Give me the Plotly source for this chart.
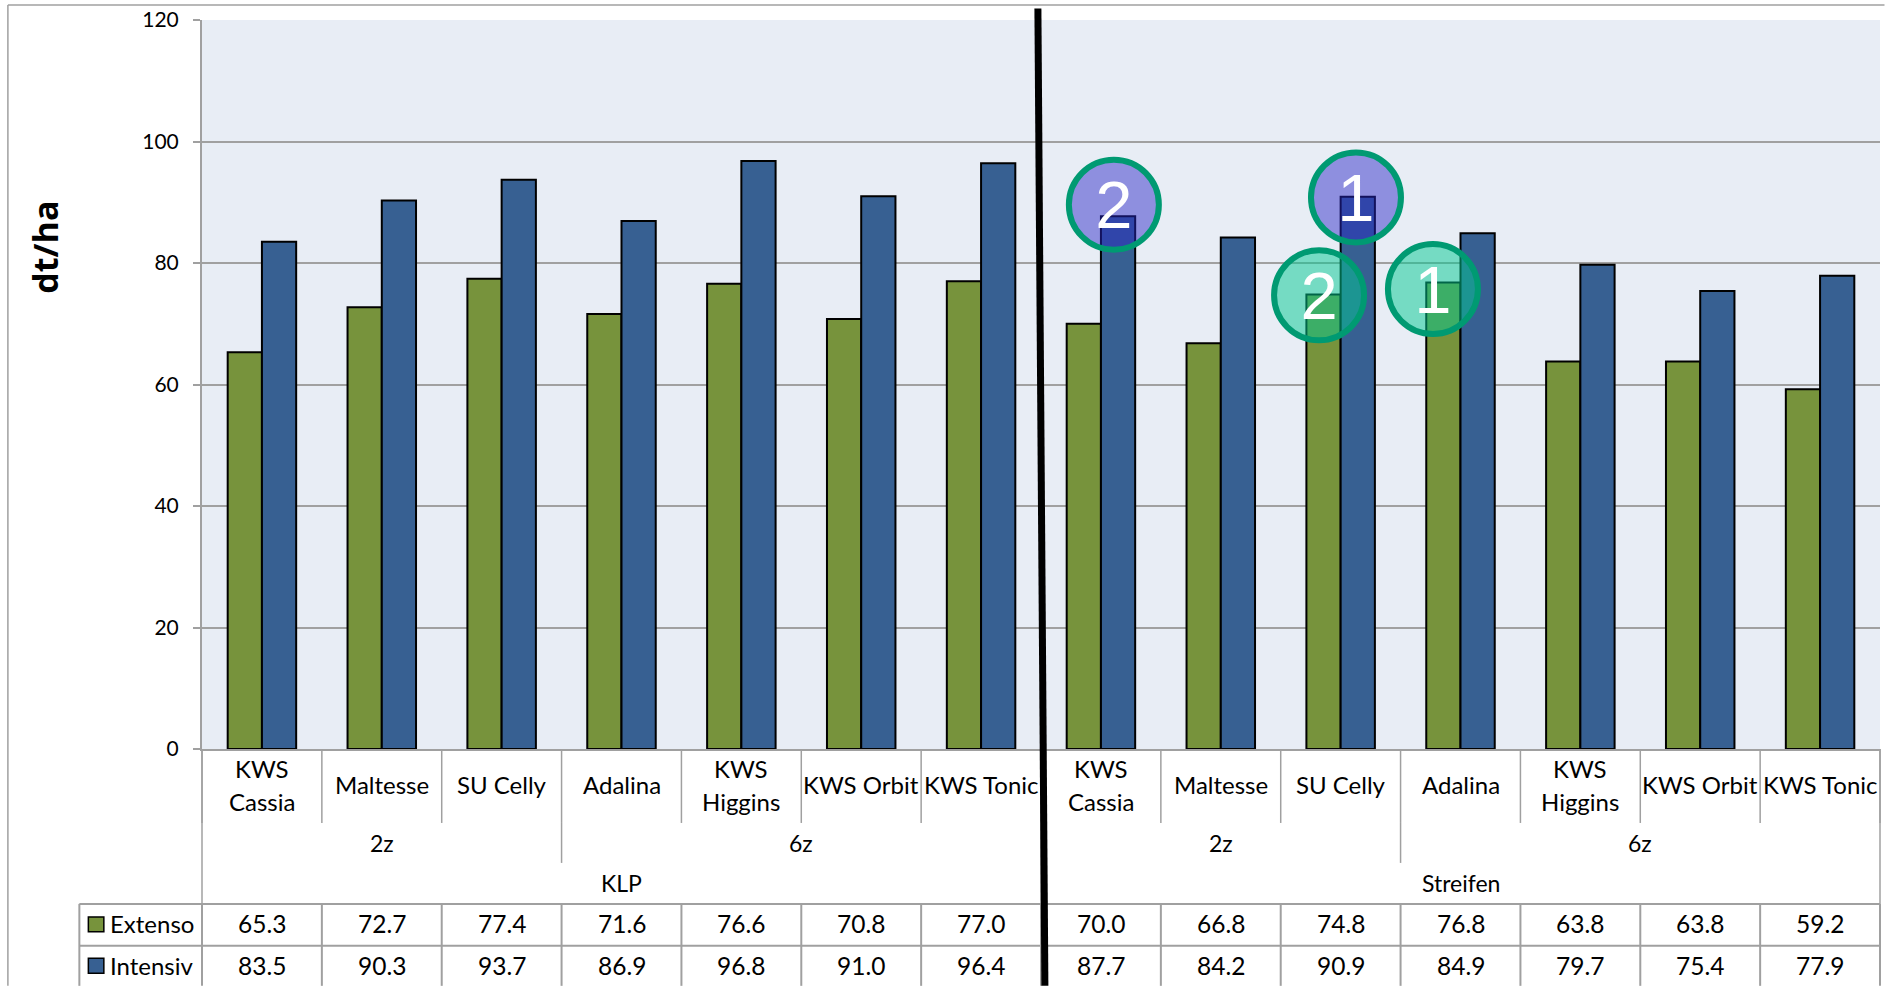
import plotly.graph_objects as go

cultivars = ["KWS<br>Cassia", "Maltesse", "SU Celly", "Adalina", "KWS<br>Higgins", "KWS Orbit", "KWS Tonic"] * 2
extenso = [65.3, 72.7, 77.4, 71.6, 76.6, 70.8, 77.0, 70.0, 66.8, 74.8, 76.8, 63.8, 63.8, 59.2]
intensiv = [83.5, 90.3, 93.7, 86.9, 96.8, 91.0, 96.4, 87.7, 84.2, 90.9, 84.9, 79.7, 75.4, 77.9]
group_labels = ["2z", "6z", "2z", "6z"]
group_pos = [1, 4.5, 8, 11.5]
method_labels = ["KLP", "Streifen"]
method_pos = [3, 10]
y_ticks = [0, 20, 40, 60, 80, 100, 120]
blue_marks_x = [7.108, 9.128]
blue_marks_y = [89.6, 90.8]
blue_marks_text = ["2", "1"]
green_marks_x = [8.82, 9.77]
green_marks_y = [74.7, 75.7]
green_marks_text = ["2", "1"]

W, H = 1885, 986
L, R, T, B = 201.7, 1880.5, 19.5, 749
CELL = (R - L) / 14
FONT = "Lato"
GRAY = "#A0A0A0"
GREEN = "#77933C"
BLUE = "#376092"

def px(v):
    return (v - L) / (R - L)

def py(v):
    return (B - v) / (B - T)

fig = go.Figure()
fig.add_bar(x=list(range(14)), y=extenso, name="Extenso", marker=dict(color=GREEN, line=dict(color="black", width=2)))
fig.add_bar(x=list(range(14)), y=intensiv, name="Intensiv", marker=dict(color=BLUE, line=dict(color="black", width=2)))

for xs, ys, txt, fill in [
    (blue_marks_x, blue_marks_y, blue_marks_text, "rgba(40,39,198,0.47)"),
    (green_marks_x, green_marks_y, green_marks_text, "rgba(2,202,145,0.5)"),
]:
    fig.add_scatter(x=xs, y=ys, mode="markers", showlegend=False,
                    marker=dict(size=90, color=fill, line=dict(color="#009A72", width=6)))
    fig.add_scatter(x=xs, y=[v - 1.1 for v in ys], text=txt, mode="text", textposition="middle center",
                    textfont=dict(family="Liberation Sans", size=67, color="white"), showlegend=False)

shapes = []

def line(x0, y0, x1, y1, color=GRAY, width=1.5):
    shapes.append(dict(type="line", xref="paper", yref="paper", x0=px(x0), y0=py(y0), x1=px(x1), y1=py(y1),
                       line=dict(color=color, width=width), layer="above"))

# page frame
line(7.5, 4.5, W, 4.5)
line(7.5, 4.5, 7.5, H)
# table rows
for yy in (904, 946):
    line(79, yy, R, yy, width=2)
line(79, 904, 79, H, width=2)
# table columns
for i in range(15):
    xx = L + CELL * i
    line(xx, 749, xx, 823)
    line(xx, 904, xx, H, width=2)
for i in (0, 7, 14):
    xx = L + CELL * i
    line(xx, 749, xx, 904)
for i in (3, 10):
    xx = L + CELL * i
    line(xx, 823, xx, 863)
# legend keys
for yy, col in ((924.5, GREEN), (966, BLUE)):
    shapes.append(dict(type="rect", xref="paper", yref="paper", x0=px(88), x1=px(103.5), y0=py(yy - 7.5), y1=py(yy + 7.5),
                       fillcolor=col, line=dict(color="black", width=1.5), layer="above"))
# heavy divider
line(1038, 8, 1045, H, color="black", width=7)

ann = []

def label(x, ypx, text, size, xanchor="center", xref="x"):
    ann.append(dict(x=x, y=py(ypx), xref=xref, yref="paper", text=text, showarrow=False, xanchor=xanchor,
                    yanchor="middle", font=dict(family=FONT, size=size, color="black"), align="center"))

for i, c in enumerate(cultivars):
    parts = c.split("<br>")
    if len(parts) == 2:
        label(i, 769, parts[0], 24)
        label(i, 802, parts[1], 24)
    else:
        label(i, 785, c, 24)
    label(i, 924, f"{extenso[i]:.1f}", 24.5)
    label(i, 966, f"{intensiv[i]:.1f}", 24.5)
for p, g in zip(group_pos, group_labels):
    label(p, 843, g, 23)
for p, m in zip(method_pos, method_labels):
    label(p, 883, m, 23)
label(px(108), 924, "Extenso", 24, xanchor="left", xref="paper")
label(px(108), 966, "Intensiv", 24, xanchor="left", xref="paper")
# y axis title
ann.append(dict(x=px(45), y=py(247), xref="paper", yref="paper", text="<b>dt/ha</b>", showarrow=False, textangle=-90,
                xanchor="center", yanchor="middle", font=dict(family="Open Sans", size=34, color="black")))

fig.update_layout(
    width=W, height=H, autosize=False,
    margin=dict(l=L, r=W - R, t=T, b=H - B, pad=0),
    paper_bgcolor="white", plot_bgcolor="#E8EDF5",
    barmode="group", bargap=0.4286, bargroupgap=0,
    showlegend=False, shapes=shapes, annotations=ann,
    font=dict(family=FONT, size=21, color="black"),
    xaxis=dict(range=[-0.5, 13.5], showticklabels=False, showgrid=False, zeroline=False,
               showline=True, linecolor=GRAY, linewidth=2, ticks=""),
    yaxis=dict(range=[0, 120], tickvals=y_ticks, showgrid=True, gridcolor=GRAY, gridwidth=1.5, zeroline=False,
               showline=True, linecolor=GRAY, linewidth=2, ticks="outside", ticklen=7, tickcolor=GRAY, tickwidth=1.5,
               ticklabelstandoff=10, tickfont=dict(family=FONT, size=21, color="black")),
)
fig.write_html("out.html", config={"displayModeBar": False},
               post_script="document.body.style.margin='0';document.body.style.overflow='hidden';")
